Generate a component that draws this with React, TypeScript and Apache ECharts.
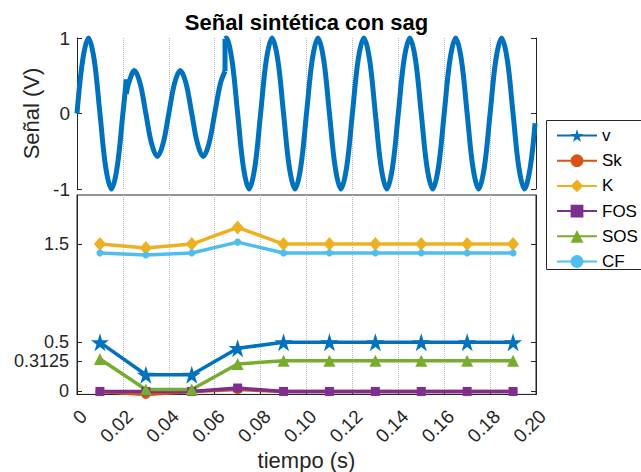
import React, { useEffect, useRef } from 'react';
import * as echarts from 'echarts';

const FONT = 'Liberation Sans, Arial, Helvetica, sans-serif';
const AXIS_COLOR = '#262626';
const GRID_COLOR = '#b8b8b8';

// ---- Top subplot: synthetic signal knots (t in s, value in V)
const signalBefore: [number, number][] = [
  [0, 0], [0.0025, 0.71], [0.005, 1], [0.0075, 0.71], [0.01, 0], [0.0125, -0.71],
  [0.015, -1], [0.0175, -0.71], [0.02, 0], [0.0215, 0.45],
];
const sagStartJump: [number, number][] = [[0.0215, 0.45], [0.0215, 0.26]];
const signalSag: [number, number][] = [
  [0.0215, 0.26], [0.0225, 0.4], [0.025, 0.57], [0.0275, 0.4], [0.03, 0], [0.0325, -0.4],
  [0.035, -0.57], [0.0375, -0.4], [0.04, 0], [0.0425, 0.4], [0.045, 0.57], [0.0475, 0.4],
  [0.05, 0], [0.0525, -0.4], [0.055, -0.57], [0.0575, -0.4], [0.06, 0], [0.0625, 0.4],
  [0.0645, 0.56],
];
const sagEndJump: [number, number][] = [[0.0645, 0.56], [0.0645, 0.99]];
const signalAfter: [number, number][] = [
  [0.0645, 0.99], [0.065, 1], [0.0675, 0.71], [0.07, 0], [0.0725, -0.71], [0.075, -1], [0.0775, -0.71], [0.08, 0], [0.0825, 0.71],
  [0.085, 1], [0.0875, 0.71], [0.09, 0], [0.0925, -0.71], [0.095, -1], [0.0975, -0.71], [0.1, 0], [0.1025, 0.71],
  [0.105, 1], [0.1075, 0.71], [0.11, 0], [0.1125, -0.71], [0.115, -1], [0.1175, -0.71], [0.12, 0], [0.1225, 0.71],
  [0.125, 1], [0.1275, 0.71], [0.13, 0], [0.1325, -0.71], [0.135, -1], [0.1375, -0.71], [0.14, 0], [0.1425, 0.71],
  [0.145, 1], [0.1475, 0.71], [0.15, 0], [0.1525, -0.71], [0.155, -1], [0.1575, -0.71], [0.16, 0], [0.1625, 0.71],
  [0.165, 1], [0.1675, 0.71], [0.17, 0], [0.1725, -0.71], [0.175, -1], [0.1775, -0.71], [0.18, 0], [0.1825, 0.71],
  [0.185, 1], [0.1875, 0.71], [0.19, 0], [0.1925, -0.71], [0.195, -1], [0.1975, -0.71], [0.1996, -0.13],
];
const signalTicks = [-1, 0, 1];

// ---- Bottom subplot: per-cycle features
const cycleTimes = [0.01, 0.03, 0.05, 0.07, 0.09, 0.11, 0.13, 0.15, 0.17, 0.19];
const vValues = [0.5, 0.17, 0.17, 0.44, 0.5, 0.5, 0.5, 0.5, 0.5, 0.5];
const skValues = [0, -0.03, 0, 0.02, 0, 0, 0, 0, 0, 0];
const kValues = [1.5, 1.46, 1.5, 1.67, 1.5, 1.5, 1.5, 1.5, 1.5, 1.5];
const fosValues = [0, 0, 0, 0.035, 0, 0, 0, 0, 0, 0];
const sosValues = [0.33, 0.02, 0.02, 0.28, 0.3125, 0.3125, 0.3125, 0.3125, 0.3125, 0.3125];
const cfValues = [1.41, 1.39, 1.41, 1.52, 1.41, 1.41, 1.41, 1.41, 1.41, 1.41];
const featureTicks = [0, 0.3125, 0.5, 1.5];
const legendNames = ['v', 'Sk', 'K', 'FOS', 'SOS', 'CF'];

const STAR = 'path://M0,-10L2.245,-3.09L9.511,-3.09L3.633,1.18L5.878,8.09L0,3.82L-5.878,8.09L-3.633,1.18L-9.511,-3.09L-2.245,-3.09Z';

const zip = (ys: number[]) => cycleTimes.map((t, i) => [t, ys[i]]);

export default function App() {
  const ref = useRef<HTMLDivElement>(null);
  useEffect(() => {
    if (!ref.current) return;
    const chart = echarts.init(ref.current, undefined, { renderer: 'svg' });
    const labelStyle = { color: AXIS_COLOR, fontSize: 18, lineHeight: 15, fontFamily: FONT };
    const nameStyle = { color: AXIS_COLOR, fontSize: 22, fontFamily: FONT };
    const topLine = (data: [number, number][], smooth: number | boolean) => ({
      type: 'line', xAxisIndex: 0, yAxisIndex: 0, data, smooth, showSymbol: false,
      symbol: 'none', clip: false, silent: true,
      lineStyle: { color: '#0072BD', width: 5 },
    });
    const feature = (name: string, ys: number[], color: string, symbol: string, size: number | number[]) => ({
      name, type: 'line', xAxisIndex: 1, yAxisIndex: 2, data: zip(ys), symbol, symbolSize: size,
      clip: false, lineStyle: { color, width: 3.5 }, itemStyle: { color },
    });
    const xBase = {
      type: 'value', min: 0, max: 0.2, interval: 0.02,
      splitLine: { show: true, lineStyle: { type: 'dotted', color: GRID_COLOR, width: 1 } },
    };
    chart.setOption({
      animation: false,
      backgroundColor: '#ffffff',
      textStyle: { fontFamily: FONT },
      graphic: [
        {
          type: 'text', x: 306.5, y: 22,
          style: { text: 'Señal sintética con sag', fill: '#000', fontSize: 22, fontWeight: 'bold', fontFamily: FONT, align: 'center', verticalAlign: 'middle' },
        },
        {
          type: 'rect', z: 3, shape: { x: 546.5, y: 120.5, width: 120, height: 149 },
          style: { fill: '#ffffff', stroke: AXIS_COLOR, lineWidth: 1 },
        },
      ],
      grid: [
        { left: 77, top: 38, width: 459, height: 151 },
        { left: 77, top: 195, width: 459, height: 200, show: true, borderColor: AXIS_COLOR, borderWidth: 1 },
      ],
      xAxis: [
        { ...xBase, gridIndex: 0, axisLine: { show: false }, axisTick: { show: false }, axisLabel: { show: false } },
        {
          ...xBase, gridIndex: 1, position: 'bottom',
          axisLine: { show: true, onZero: false, lineStyle: { color: AXIS_COLOR } },
          axisTick: { show: true, inside: true, length: 4, lineStyle: { color: AXIS_COLOR } },
          axisLabel: {
            ...labelStyle, fontSize: 19, lineHeight: 19, rotate: 45, margin: 12, verticalAlign: 'top',
            formatter: (v: number) => (v === 0 ? '0' : v.toFixed(2)),
          },
          name: 'tiempo (s)', nameLocation: 'middle', nameGap: 54,
          nameTextStyle: nameStyle,
        },
      ],
      yAxis: [
        {
          type: 'value', gridIndex: 0, min: -1, max: 1, position: 'left',
          axisLine: { show: true, onZero: false, lineStyle: { color: AXIS_COLOR } },
          axisTick: { show: true, inside: true, length: 5, customValues: signalTicks, lineStyle: { color: AXIS_COLOR } },
          axisLabel: { ...labelStyle, fontSize: 19, margin: 7, customValues: signalTicks },
          splitLine: { show: false },
          name: 'Señal (V)', nameLocation: 'middle', nameGap: 32, nameRotate: 90,
          nameTextStyle: nameStyle,
        },
        {
          type: 'value', gridIndex: 0, min: -1, max: 1, position: 'right',
          axisLine: { show: true, onZero: false, lineStyle: { color: AXIS_COLOR } },
          axisTick: { show: true, inside: true, length: 5, customValues: signalTicks, lineStyle: { color: AXIS_COLOR } },
          axisLabel: { show: false },
          splitLine: { show: false },
        },
        {
          type: 'value', gridIndex: 1, min: -0.03, max: 2, position: 'left',
          axisLine: { show: true, onZero: false, lineStyle: { color: AXIS_COLOR } },
          axisTick: { show: true, inside: true, length: 5, customValues: featureTicks, lineStyle: { color: AXIS_COLOR } },
          axisLabel: { ...labelStyle, margin: 8, customValues: featureTicks },
          splitLine: { show: false },
        },
        {
          type: 'value', gridIndex: 1, min: -0.03, max: 2, position: 'right',
          axisLine: { show: true, onZero: false, lineStyle: { color: AXIS_COLOR } },
          axisTick: { show: true, inside: true, length: 5, customValues: featureTicks, lineStyle: { color: AXIS_COLOR } },
          axisLabel: { show: false },
          splitLine: { show: false },
        },
      ],
      legend: {
        data: legendNames,
        orient: 'vertical', left: 556, top: 127, z: 5,
        itemWidth: 40, itemHeight: 16, itemGap: 8.2,
        padding: 0,
        textStyle: { color: '#000', fontSize: 17, lineHeight: 16, fontFamily: FONT },
        selectedMode: false,
      },
      series: [
        topLine(signalBefore, 0.35),
        topLine(sagStartJump, false),
        topLine(signalSag, 0.35),
        topLine(sagEndJump, false),
        topLine(signalAfter, 0.35),
        feature('v', vValues, '#0072BD', STAR, 18),
        feature('Sk', skValues, '#D95319', 'circle', 9),
        feature('K', kValues, '#EDB120', 'diamond', [12, 14]),
        feature('FOS', fosValues, '#7E2F8E', 'rect', 9),
        feature('SOS', sosValues, '#77AC30', 'triangle', 12),
        feature('CF', cfValues, '#4DBEEE', 'circle', 7),
      ],
    });
    return () => chart.dispose();
  }, []);
  return <div ref={ref} style={{ position: 'absolute', left: 0, top: 0, width: 641, height: 472 }} />;
}
